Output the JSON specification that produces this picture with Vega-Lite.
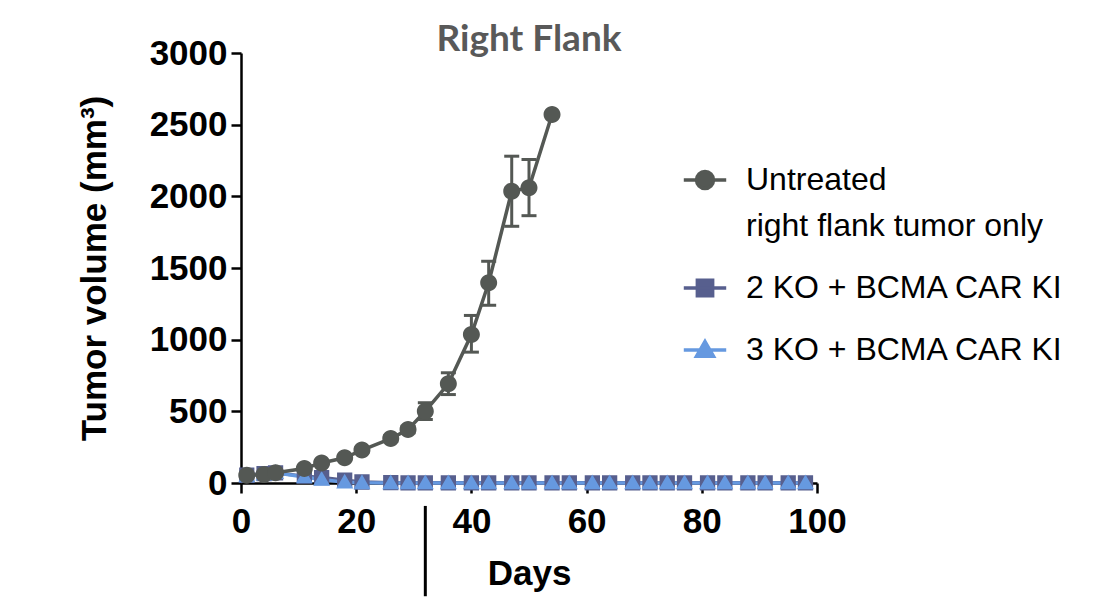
{
  "$schema": "https://vega.github.io/schema/vega-lite/v6.json",
  "width": 576,
  "height": 430,
  "autosize": {"type": "none"},
  "padding": {"left": 241, "top": 53, "right": 303, "bottom": 114},
  "background": "white",
  "title": {
    "text": "Right Flank",
    "font": "Lato",
    "fontSize": 37,
    "fontWeight": "bold",
    "color": "#595959",
    "anchor": "middle",
    "frame": "group",
    "baseline": "alphabetic",
    "offset": 4,
    "dy": 56
  },
  "datasets": {
    "main": [
      {"group": "2 KO + BCMA CAR KI", "day": 1, "vol": 54},
      {"group": "2 KO + BCMA CAR KI", "day": 4, "vol": 66},
      {"group": "2 KO + BCMA CAR KI", "day": 6, "vol": 70},
      {"group": "2 KO + BCMA CAR KI", "day": 11, "vol": 48},
      {"group": "2 KO + BCMA CAR KI", "day": 14, "vol": 38},
      {"group": "2 KO + BCMA CAR KI", "day": 18, "vol": 20},
      {"group": "2 KO + BCMA CAR KI", "day": 21, "vol": 7},
      {"group": "2 KO + BCMA CAR KI", "day": 26, "vol": 2},
      {"group": "2 KO + BCMA CAR KI", "day": 29, "vol": 1},
      {"group": "2 KO + BCMA CAR KI", "day": 32, "vol": 1},
      {"group": "2 KO + BCMA CAR KI", "day": 36, "vol": 1},
      {"group": "2 KO + BCMA CAR KI", "day": 40, "vol": 1},
      {"group": "2 KO + BCMA CAR KI", "day": 43, "vol": 1},
      {"group": "2 KO + BCMA CAR KI", "day": 47, "vol": 1},
      {"group": "2 KO + BCMA CAR KI", "day": 50, "vol": 1},
      {"group": "2 KO + BCMA CAR KI", "day": 54, "vol": 1},
      {"group": "2 KO + BCMA CAR KI", "day": 57, "vol": 1},
      {"group": "2 KO + BCMA CAR KI", "day": 61, "vol": 1},
      {"group": "2 KO + BCMA CAR KI", "day": 64, "vol": 1},
      {"group": "2 KO + BCMA CAR KI", "day": 68, "vol": 1},
      {"group": "2 KO + BCMA CAR KI", "day": 71, "vol": 1},
      {"group": "2 KO + BCMA CAR KI", "day": 74, "vol": 1},
      {"group": "2 KO + BCMA CAR KI", "day": 77, "vol": 1},
      {"group": "2 KO + BCMA CAR KI", "day": 81, "vol": 1},
      {"group": "2 KO + BCMA CAR KI", "day": 84, "vol": 1},
      {"group": "2 KO + BCMA CAR KI", "day": 88, "vol": 1},
      {"group": "2 KO + BCMA CAR KI", "day": 91, "vol": 1},
      {"group": "2 KO + BCMA CAR KI", "day": 95, "vol": 1},
      {"group": "2 KO + BCMA CAR KI", "day": 98, "vol": 1},
      {"group": "3 KO + BCMA CAR KI", "day": 1, "vol": 50},
      {"group": "3 KO + BCMA CAR KI", "day": 4, "vol": 62},
      {"group": "3 KO + BCMA CAR KI", "day": 6, "vol": 72},
      {"group": "3 KO + BCMA CAR KI", "day": 11, "vol": 42},
      {"group": "3 KO + BCMA CAR KI", "day": 14, "vol": 25},
      {"group": "3 KO + BCMA CAR KI", "day": 18, "vol": 6},
      {"group": "3 KO + BCMA CAR KI", "day": 21, "vol": 1},
      {"group": "3 KO + BCMA CAR KI", "day": 26, "vol": 0},
      {"group": "3 KO + BCMA CAR KI", "day": 29, "vol": 0},
      {"group": "3 KO + BCMA CAR KI", "day": 32, "vol": 0},
      {"group": "3 KO + BCMA CAR KI", "day": 36, "vol": 0},
      {"group": "3 KO + BCMA CAR KI", "day": 40, "vol": 0},
      {"group": "3 KO + BCMA CAR KI", "day": 43, "vol": 0},
      {"group": "3 KO + BCMA CAR KI", "day": 47, "vol": 0},
      {"group": "3 KO + BCMA CAR KI", "day": 50, "vol": 0},
      {"group": "3 KO + BCMA CAR KI", "day": 54, "vol": 0},
      {"group": "3 KO + BCMA CAR KI", "day": 57, "vol": 0},
      {"group": "3 KO + BCMA CAR KI", "day": 61, "vol": 0},
      {"group": "3 KO + BCMA CAR KI", "day": 64, "vol": 0},
      {"group": "3 KO + BCMA CAR KI", "day": 68, "vol": 0},
      {"group": "3 KO + BCMA CAR KI", "day": 71, "vol": 0},
      {"group": "3 KO + BCMA CAR KI", "day": 74, "vol": 0},
      {"group": "3 KO + BCMA CAR KI", "day": 77, "vol": 0},
      {"group": "3 KO + BCMA CAR KI", "day": 81, "vol": 0},
      {"group": "3 KO + BCMA CAR KI", "day": 84, "vol": 0},
      {"group": "3 KO + BCMA CAR KI", "day": 88, "vol": 0},
      {"group": "3 KO + BCMA CAR KI", "day": 91, "vol": 0},
      {"group": "3 KO + BCMA CAR KI", "day": 95, "vol": 0},
      {"group": "3 KO + BCMA CAR KI", "day": 98, "vol": 0},
      {"group": "Untreated", "day": 1, "vol": 54, "lo": 50, "hi": 58},
      {"group": "Untreated", "day": 4, "vol": 60, "lo": 55, "hi": 65},
      {"group": "Untreated", "day": 6, "vol": 71, "lo": 65, "hi": 77},
      {"group": "Untreated", "day": 11, "vol": 101, "lo": 92, "hi": 110},
      {"group": "Untreated", "day": 14, "vol": 140, "lo": 128, "hi": 152},
      {"group": "Untreated", "day": 18, "vol": 176, "lo": 162, "hi": 190},
      {"group": "Untreated", "day": 21, "vol": 230, "lo": 214, "hi": 246},
      {"group": "Untreated", "day": 26, "vol": 310, "lo": 290, "hi": 330},
      {"group": "Untreated", "day": 29, "vol": 373, "lo": 350, "hi": 396},
      {"group": "Untreated", "day": 32, "vol": 501, "lo": 443, "hi": 560},
      {"group": "Untreated", "day": 36, "vol": 692, "lo": 617, "hi": 769},
      {"group": "Untreated", "day": 40, "vol": 1036, "lo": 913, "hi": 1169},
      {"group": "Untreated", "day": 43, "vol": 1397, "lo": 1240, "hi": 1547},
      {"group": "Untreated", "day": 47, "vol": 2036, "lo": 1791, "hi": 2280},
      {"group": "Untreated", "day": 50, "vol": 2060, "lo": 1865, "hi": 2257},
      {"group": "Untreated", "day": 54, "vol": 2571}
    ],
    "marker": [
      {"day": 32, "top": -160, "bottom": -790}
    ]
  },
  "data": {"name": "main"},
  "encoding": {
    "x": {
      "field": "day",
      "type": "quantitative",
      "scale": {"domain": [0, 100], "nice": false, "zero": false},
      "axis": {
        "title": "Days",
        "values": [0, 20, 40, 60, 80, 100],
        "format": "d",
        "titleY": 101,
        "titleFontSize": 35,
        "titleBaseline": "alphabetic"
      }
    }
  },
  "layer": [
    {
      "mark": {"type": "line", "strokeWidth": 3.5},
      "encoding": {
        "y": {"field": "vol", "type": "quantitative", "scale": {"domain": [0, 3000], "nice": false},
          "axis": {
            "title": "Tumor volume (mm³)",
            "values": [0, 500, 1000, 1500, 2000, 2500, 3000],
            "format": "d",
            "titleX": -136,
            "titleFontSize": 35,
            "titleBaseline": "alphabetic"
          }},
        "color": {"field": "group", "type": "nominal",
          "scale": {"domain": ["Untreated", "2 KO + BCMA CAR KI", "3 KO + BCMA CAR KI"],
                    "range": ["#545854", "#575F8E", "#6699E0"]},
          "legend": {
            "labelExpr": "datum.label == 'Untreated' ? ['Untreated', 'right flank tumor only'] : datum.label"
          }},
        "detail": {"field": "group"}
      }
    },
    {
      "transform": [{"filter": "isValid(datum.lo)"}],
      "mark": {"type": "rule", "strokeWidth": 3, "color": "#545854", "opacity": 1},
      "encoding": {
        "y": {"field": "lo", "type": "quantitative"},
        "y2": {"field": "hi"}
      }
    },
    {
      "transform": [{"filter": "isValid(datum.lo)"}],
      "mark": {"type": "tick", "orient": "horizontal", "size": 15, "thickness": 3, "color": "#545854", "opacity": 1},
      "encoding": {
        "y": {"field": "lo", "type": "quantitative"}
      }
    },
    {
      "transform": [{"filter": "isValid(datum.hi)"}],
      "mark": {"type": "tick", "orient": "horizontal", "size": 15, "thickness": 3, "color": "#545854", "opacity": 1},
      "encoding": {
        "y": {"field": "hi", "type": "quantitative"}
      }
    },
    {
      "mark": {"type": "point", "filled": true, "size": 1800, "strokeWidth": 0, "opacity": 1},
      "encoding": {
        "y": {"field": "vol", "type": "quantitative"},
        "color": {"field": "group", "type": "nominal",
          "legend": {
            "labelExpr": "datum.label == 'Untreated' ? ['Untreated', 'right flank tumor only'] : datum.label"
          }},
        "stroke": {"field": "group", "type": "nominal",
          "scale": {"domain": ["Untreated", "2 KO + BCMA CAR KI", "3 KO + BCMA CAR KI"],
                    "range": ["#545854", "#575F8E", "#6699E0"]}},
        "shape": {"field": "group", "type": "nominal",
          "scale": {"domain": ["Untreated", "2 KO + BCMA CAR KI", "3 KO + BCMA CAR KI"],
                    "range": [
                      "M-1,0H1M-0.4,0A0.4,0.4 0 1,1 0.4,0A0.4,0.4 0 1,1 -0.4,0Z",
                      "M-1,0H1M-0.36,-0.36H0.36V0.36H-0.36Z",
                      "M-1,0H1M0,-0.4L0.4,0.3H-0.4Z"
                    ]}}
      }
    },
    {
      "data": {"name": "marker"},
      "mark": {"type": "rule", "strokeWidth": 3, "color": "black"},
      "encoding": {
        "y": {"field": "top", "type": "quantitative"},
        "y2": {"field": "bottom"}
      }
    }
  ],
  "config": {
    "view": {"stroke": null},
    "axis": {
      "grid": false,
      "domainColor": "black",
      "domainWidth": 2.5,
      "tickColor": "black",
      "tickWidth": 2.5,
      "tickSize": 10,
      "labelFont": "Liberation Sans",
      "labelFontSize": 35,
      "labelFontWeight": "bold",
      "labelColor": "black",
      "titleFont": "Liberation Sans",
      "titleFontSize": 33,
      "titleFontWeight": "bold",
      "titleColor": "black"
    },
    "axisX": {"labelPadding": 11, "labelFlush": false},
    "axisY": {"labelPadding": 4},
    "legend": {
      "orient": "none",
      "legendX": 441,
      "legendY": 104,
      "title": null,
      "symbolSize": 1800,
      "symbolStrokeWidth": 3.5,
      "symbolOpacity": 1,
      "labelFont": "Liberation Sans",
      "labelFontSize": 32,
      "labelColor": "black",
      "labelOffset": 18,
      "labelLimit": 500,
      "rowPadding": 23
    },
    "style": {"guide-label": {"lineHeight": 46}}
  }
}
